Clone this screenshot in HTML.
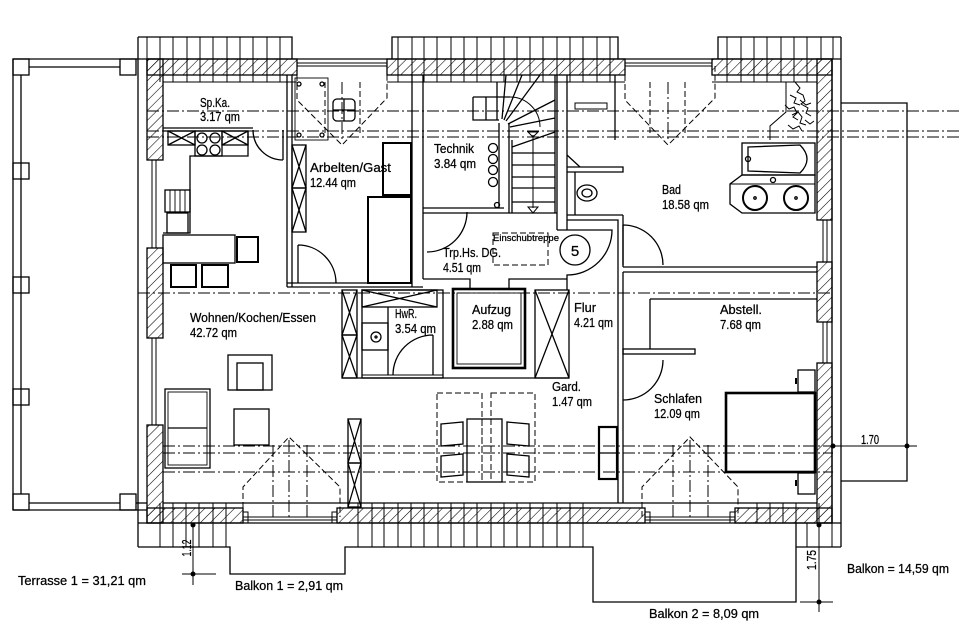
<!DOCTYPE html>
<html><head><meta charset="utf-8"><style>
html,body{margin:0;padding:0;background:#fff;}
svg{display:block;}
text{font-family:"Liberation Sans",sans-serif;font-size:12.5px;fill:#000;stroke:#000;stroke-width:0.25;}
</style></head><body>
<svg width="960" height="643" viewBox="0 0 960 643" xmlns="http://www.w3.org/2000/svg">
<defs>
<pattern id="h" width="7" height="7" patternUnits="userSpaceOnUse" patternTransform="rotate(45)"><line x1="0" y1="0" x2="0" y2="7" stroke="#000" stroke-width="1.1"/></pattern>
</defs>
<rect width="960" height="643" fill="#fff"/>
<g fill="none" stroke="#000" stroke-width="1.3">
<!-- Terrace -->
<line x1="13" y1="59" x2="138" y2="59"/>
<line x1="13" y1="59" x2="13" y2="510"/>
<line x1="21" y1="75" x2="21" y2="494"/>
<line x1="29" y1="67" x2="120" y2="67"/>
<line x1="13" y1="510" x2="147" y2="510"/>
<line x1="29" y1="503" x2="120" y2="503"/>
<rect x="13" y="59" width="16" height="16"/><rect x="120" y="59" width="16" height="16"/>
<rect x="13" y="163" width="16" height="16"/><rect x="13" y="277" width="16" height="16"/>
<rect x="13" y="389" width="16" height="16"/>
<rect x="13" y="494" width="16" height="16"/><rect x="120" y="494" width="16" height="16"/>
<line x1="136" y1="503" x2="147" y2="503"/>

<!-- Building outline -->
<line x1="138" y1="37" x2="138" y2="547"/>
<line x1="841" y1="37" x2="841" y2="547"/>
<line x1="832" y1="59" x2="832" y2="523"/>
<line x1="138" y1="59" x2="841" y2="59"/>
<line x1="138" y1="523" x2="841" y2="523"/>
<line x1="163" y1="503" x2="817" y2="503"/>
<path d="M163,82 H297 M387,82 H625 M712,82 H817" stroke-width="0.9"/>
<path d="M147,75 H297 M387,75 H625 M712,75 H832" stroke-width="0.9"/>

<!-- top overhangs -->
<path d="M138,37 H292 V59"/>
<path d="M392,59 V37 H618 V59"/>
<path d="M718,59 V37 H841"/>
<g stroke-width="1">
<path d="M147,37V82M160,37V82M173,37V82M187,37V82M200,37V82M213,37V82M227,37V82M240,37V82M253,37V82M267,37V82M280,37V82"/>
<path d="M398,37V82M412,37V82M424,37V82M437,37V82M451,37V82M464,37V82M477,37V82M491,37V82M504,37V82M517,37V82M530,37V82M543,37V82M557,37V82M570,37V82M583,37V82M597,37V82M610,37V82"/>
<path d="M727,37V82M741,37V82M754,37V82M767,37V82M781,37V82M794,37V82M807,37V82M821,37V59M833,37V59"/>
</g>
<!-- bottom overhangs -->
<path d="M138,547 H230 V574 H345 V547 H593 V602 H796 V523"/>
<path d="M796,547 H841"/>
<g stroke-width="1">
<path d="M160,503V547M173,503V547M186,503V547M199,503V547M213,503V547M226,503V547"/>
<path d="M358,503V547M372,503V547M384,503V547M398,503V547M411,503V547M424,503V547M438,503V547M451,503V547M464,503V547M477,503V547M491,503V547M504,503V547M517,503V547M530,503V547M543,503V547M557,503V547M570,503V547M583,503V547"/>
<path d="M757,503V523M770,503V523M783,503V523M796,503V523M807,523V547M819,503V547M832,523V547"/>
</g>

<!-- hatched walls -->
<g fill="url(#h)">
<rect x="147" y="59" width="150" height="16"/>
<rect x="387" y="59" width="238" height="16"/>
<rect x="712" y="59" width="120" height="16"/>
<rect x="147" y="59" width="16" height="101"/>
<rect x="147" y="248" width="16" height="90"/>
<rect x="147" y="425" width="16" height="98"/>
<rect x="817" y="59" width="15" height="161"/>
<rect x="817" y="262" width="15" height="60"/>
<rect x="817" y="363" width="15" height="160"/>
<rect x="147" y="508" width="96" height="15"/>
<rect x="337" y="508" width="308" height="15"/>
<rect x="735" y="508" width="97" height="15"/>
</g>
<!-- windows -->
<g stroke-width="1">
<path d="M152,160V248M156,160V248M152,338V425M156,338V425"/>
<path d="M823,220V262M827,220V262M823,322V363M827,322V363"/>
<path d="M243,517H337M243,520H337M645,517H735M645,520H735"/>
<path d="M297,63H387M297,66H387M625,63H712M625,66H712"/>
<rect x="243" y="512" width="5" height="11"/><rect x="332" y="512" width="5" height="11"/>
<rect x="645" y="512" width="5" height="11"/><rect x="730" y="512" width="5" height="11"/>
</g>

<!-- right balcony + dims -->
<path d="M841,103 H907 V481 H841"/>
<line x1="833" y1="446" x2="917" y2="446" stroke-width="1"/>
<line x1="819" y1="523" x2="819" y2="612" stroke-width="1"/>
<line x1="800" y1="602" x2="833" y2="602" stroke-width="1"/>
<line x1="193" y1="523" x2="193" y2="585" stroke-width="1"/>
<line x1="182" y1="574" x2="216" y2="574" stroke-width="1"/>
<g fill="#000" stroke="none">
<circle cx="833" cy="446" r="2.5"/><circle cx="907" cy="446" r="2.5"/>
<circle cx="819" cy="525" r="2.5"/><circle cx="819" cy="602" r="2.5"/>
<circle cx="193" cy="525" r="2.5"/><circle cx="193" cy="574" r="2.5"/>
</g>

<!-- dash-dot lines -->
<g stroke-width="1" stroke-dasharray="12 3 2 3">
<line x1="147" y1="111" x2="960" y2="111"/>
<line x1="147" y1="131" x2="960" y2="131"/>
<line x1="147" y1="137" x2="960" y2="137"/>
<line x1="138" y1="293" x2="833" y2="293"/>
<line x1="163" y1="446" x2="833" y2="446"/>
<line x1="163" y1="453" x2="833" y2="453"/>
<line x1="163" y1="472" x2="833" y2="472"/>
<line x1="342" y1="82" x2="342" y2="140"/>
<line x1="668" y1="82" x2="668" y2="140"/>
<line x1="273" y1="445" x2="273" y2="517"/>
<line x1="289" y1="440" x2="289" y2="517"/>
<line x1="307" y1="445" x2="307" y2="517"/>
<line x1="673" y1="445" x2="673" y2="517"/>
<line x1="690" y1="440" x2="690" y2="517"/>
<line x1="708" y1="445" x2="708" y2="517"/>
</g>
<!-- dormer projections dashed -->
<g stroke-width="1" stroke-dasharray="6 3">
<path d="M297,66V100L342,145L387,98V66"/>
<path d="M325,82V135M360,82V135"/>
<path d="M625,66V100L668,145L715,98V66"/>
<path d="M650,82V135M685,82V135"/>
<path d="M243,517V487L289,437L340,487V517"/>
<path d="M642,517V487L690,437L738,487V517"/>
</g>

<!-- Sp.Ka / kitchen -->
<line x1="163" y1="128" x2="253" y2="128"/>
<line x1="287" y1="75" x2="287" y2="287"/>
<line x1="292" y1="75" x2="292" y2="287"/>
<path d="M163,131 H248 V156 H190 V233 H163"/>
<rect x="168" y="131" width="27" height="14"/><path d="M168,131L195,145M168,145L195,131"/>
<rect x="222" y="131" width="26" height="14"/><path d="M222,131L248,145M222,145L248,131"/>
<rect x="195" y="131" width="27" height="25"/>
<circle cx="202" cy="138" r="5"/><circle cx="215" cy="138" r="5"/>
<circle cx="202" cy="150" r="5"/><circle cx="215" cy="150" r="5"/>
<rect x="165" y="190" width="25" height="22"/>
<path d="M170,190V212M175,190V212M180,190V212M185,190V212" stroke-width="0.9"/>
<rect x="167" y="213" width="21" height="20"/>
<rect x="163" y="235" width="72" height="28"/>
<rect x="237" y="237" width="21" height="25" stroke-width="2"/>
<rect x="171" y="265" width="25" height="22" stroke-width="2"/>
<rect x="202" y="265" width="26" height="22" stroke-width="2"/>
<path d="M253,130 A30,30 0 0 0 283,160 M283,130 V160"/>

<!-- Arbeiten -->
<rect x="292" y="145" width="14" height="43"/><path d="M292,145L306,188M306,145L292,188"/>
<rect x="292" y="188" width="14" height="44"/><path d="M292,188L306,232M306,188L292,232"/>
<rect x="383" y="143" width="28" height="52" stroke-width="2"/>
<rect x="368" y="197" width="43" height="86" stroke-width="2"/>
<path d="M298,245 V283 M298,245 A38,38 0 0 1 336,283"/>
<path d="M287,283 H412 M287,287 H423"/>
<line x1="412" y1="75" x2="412" y2="287"/>
<line x1="423" y1="75" x2="423" y2="279"/>
<rect x="295" y="78" width="33" height="62" stroke-width="0.9"/>
<circle cx="299" cy="84" r="2"/><circle cx="322" cy="84" r="2"/><circle cx="299" cy="135" r="2"/><circle cx="322" cy="135" r="2"/>
<rect x="333" y="99" width="22" height="22" rx="4"/>
<path d="M344,99V121M333,110H355"/>

<!-- Technik -->
<path d="M423,208 H504 M423,213 H509"/>
<path d="M499,123 V208 M509,123 V213"/>
<circle cx="493" cy="148" r="4.5"/><circle cx="493" cy="159" r="4.5"/><circle cx="493" cy="170" r="4.5"/><circle cx="493" cy="182" r="4.5"/>
<circle cx="497" cy="205" r="2.5"/>
<!-- stairs -->
<path d="M473,97 H510 M473,97 V120 H499"/>
<path d="M486,97V120M497,82V120"/>
<line x1="555" y1="75" x2="555" y2="213"/>
<line x1="512" y1="140" x2="512" y2="213"/>
<path d="M512,147 L555,132 M512,153H555M512,165H555M512,177H555M512,188H555M512,202H555M509,213H557"/>
<path d="M510,127 L555,118 M508,124 L555,100 M506,121 L540,75 M504,120 L522,75 M502,119 L506,75"/>
<path d="M510,97 A30,30 0 0 1 540,127" stroke-width="1"/>
<path d="M533,135 V208" stroke-width="1"/>
<path d="M528,207 L538,207 L533,213 Z M528,132 L538,132 L533,137 Z" stroke-width="1"/>
<line x1="557" y1="75" x2="557" y2="230"/>
<line x1="567" y1="75" x2="567" y2="230"/>
<rect x="575" y="103" width="32" height="6" stroke-width="1"/>
<line x1="615" y1="75" x2="615" y2="140"/>

<!-- WC / Bad -->
<path d="M567,167 H623 V172 H567"/>
<path d="M567,155 L580,167"/>
<line x1="575" y1="172" x2="575" y2="215"/>
<ellipse cx="587" cy="193" rx="10" ry="8"/>
<ellipse cx="587" cy="193" rx="5" ry="4"/>
<path d="M567,215 H623 M567,220 H618 V267 M623,215 V267"/>
<path d="M623,225 V265 M623,225 A40,40 0 0 1 663,265"/>
<path d="M623,267 H817 M623,272 H817"/>
<rect x="742" y="143" width="73" height="32"/>
<path d="M748,147 L800,145 Q814,159 800,173 L748,171 Z"/>
<circle cx="748" cy="159" r="2.5"/>
<path d="M742,175 H815 V213 H742 L730,204 V184 L742,175"/>
<line x1="730" y1="184" x2="815" y2="184" stroke-width="1"/>
<circle cx="755" cy="198" r="12" stroke-width="2"/><circle cx="755" cy="198" r="1.2"/>
<circle cx="796" cy="198" r="12" stroke-width="2"/><circle cx="796" cy="198" r="1.2"/>
<circle cx="773" cy="180" r="2.5"/>
<path d="M786,82 V112 L770,126 V140" stroke-width="1"/>
<g stroke-width="1">
<path d="M795,82 l5,6 l-3,4 l6,3 l2,6 l-4,3 l7,4 l-2,5 l5,3 M790,95 l6,3 l-2,5 l6,2 M785,105 l4,4 l5,-2 l3,6 l-4,4 l5,3 M792,115 l6,-3 l4,5 l-2,6 l6,2 M788,125 l5,4 l6,-3 l3,5 M800,100 l6,5 l5,-2 M805,120 l5,4 l4,-3"/>
</g>

<!-- Trp.Hs -->
<path d="M467,212 A40,40 0 0 1 427,252"/>
<rect x="493" y="233" width="55" height="32" stroke-width="1" stroke-dasharray="6 3"/>
<circle cx="575" cy="250" r="15"/>
<path d="M557,230 H612 A45,45 0 0 1 567,275 V290"/>
<path d="M423,279 H470 V290 M509,290 V279 H567"/>

<!-- HwR / Aufzug block -->
<rect x="342" y="290" width="15" height="45"/><path d="M342,290L357,335M357,290L342,335"/>
<rect x="342" y="335" width="15" height="43"/><path d="M342,335L357,378M357,335L342,378"/>
<rect x="362" y="290" width="81" height="88"/>
<rect x="362" y="290" width="75" height="17"/><path d="M362,290L437,307M362,307L437,290"/>
<line x1="388" y1="307" x2="388" y2="375"/>
<rect x="362" y="323" width="26" height="27"/>
<circle cx="376" cy="337" r="5"/><circle cx="376" cy="337" r="1"/>
<path d="M433,335 V375 M433,335 A40,40 0 0 0 393,375"/>
<line x1="362" y1="375" x2="443" y2="375" stroke-width="1"/>
<rect x="453" y="289" width="72" height="79" stroke-width="2.6"/>
<rect x="457" y="293" width="64" height="71" stroke-width="0.9"/>
<rect x="535" y="290" width="34" height="88"/><path d="M535,290L569,378M569,290L535,378"/>
<line x1="342" y1="378" x2="569" y2="378"/>

<!-- Flur / right rooms -->
<line x1="618" y1="267" x2="618" y2="503"/>
<line x1="623" y1="272" x2="623" y2="503"/>
<rect x="599" y="427" width="18" height="52" stroke-width="2.2"/>
<line x1="599" y1="453" x2="617" y2="453"/>
<path d="M650,299 H817 M650,299 V349"/>
<rect x="623" y="349" width="72" height="5"/>
<path d="M663,360 A40,40 0 0 1 623,400"/>
<rect x="726" y="393" width="89" height="79" stroke-width="2.6"/>
<rect x="798" y="370" width="17" height="22"/>
<rect x="798" y="473" width="17" height="21"/>
<path d="M796,378V384M796,480V486" stroke-width="2"/>

<!-- Living -->
<rect x="228" y="355" width="44" height="35"/>
<rect x="237" y="363" width="26" height="27"/>
<rect x="165" y="389" width="45" height="79"/>
<rect x="168" y="392" width="39" height="73" stroke-width="0.9"/>
<line x1="168" y1="428" x2="207" y2="428"/>
<rect x="234" y="409" width="35" height="36"/>
<rect x="348" y="419" width="13" height="44"/><path d="M348,419L361,463M361,419L348,463"/>
<rect x="348" y="463" width="13" height="44"/><path d="M348,463L361,507M361,463L348,507"/>

<!-- dining -->
<g stroke-dasharray="6 3" stroke-width="1">
<rect x="437" y="393" width="45" height="89"/>
<rect x="491" y="393" width="44" height="89"/>
<path d="M482,419V482M491,419V482"/>
</g>
<rect x="467" y="419" width="35" height="63"/>
<path d="M441,424 L463,422 L463,444 L441,446 Z M441,456 L463,454 L463,475 L441,477 Z"/>
<path d="M507,422 L529,424 L529,446 L507,444 Z M507,454 L529,456 L529,477 L507,475 Z"/>
</g>

<!-- labels -->
<text x="200" y="107" textLength="30" lengthAdjust="spacingAndGlyphs">Sp.Ka.</text>
<text x="200" y="121" textLength="40" lengthAdjust="spacingAndGlyphs">3.17 qm</text>
<text x="310" y="172" textLength="81" lengthAdjust="spacingAndGlyphs">Arbelten/Gast</text>
<text x="310" y="187" textLength="46" lengthAdjust="spacingAndGlyphs">12.44 qm</text>
<text x="434" y="153" textLength="40" lengthAdjust="spacingAndGlyphs">Technik</text>
<text x="434" y="168" textLength="42" lengthAdjust="spacingAndGlyphs">3.84 qm</text>
<text x="662" y="194" textLength="19" lengthAdjust="spacingAndGlyphs">Bad</text>
<text x="662" y="209" textLength="47" lengthAdjust="spacingAndGlyphs">18.58 qm</text>
<text x="190" y="322" textLength="126" lengthAdjust="spacingAndGlyphs">Wohnen/Kochen/Essen</text>
<text x="190" y="337" textLength="47" lengthAdjust="spacingAndGlyphs">42.72 qm</text>
<text x="443" y="257" textLength="58" lengthAdjust="spacingAndGlyphs">Trp.Hs. DG.</text>
<text x="443" y="272" textLength="38" lengthAdjust="spacingAndGlyphs">4.51 qm</text>
<text x="493" y="241" style="font-size:9px" textLength="66" lengthAdjust="spacingAndGlyphs">Einschubtreppe</text>
<text x="575" y="256" text-anchor="middle" style="font-size:15px">5</text>
<text x="395" y="318" textLength="22" lengthAdjust="spacingAndGlyphs">HwR.</text>
<text x="395" y="333" textLength="41" lengthAdjust="spacingAndGlyphs">3.54 qm</text>
<text x="472" y="314" textLength="39" lengthAdjust="spacingAndGlyphs">Aufzug</text>
<text x="472" y="329" textLength="41" lengthAdjust="spacingAndGlyphs">2.88 qm</text>
<text x="574" y="312" textLength="22" lengthAdjust="spacingAndGlyphs">Flur</text>
<text x="574" y="327" textLength="39" lengthAdjust="spacingAndGlyphs">4.21 qm</text>
<text x="552" y="391" textLength="29" lengthAdjust="spacingAndGlyphs">Gard.</text>
<text x="552" y="406" textLength="40" lengthAdjust="spacingAndGlyphs">1.47 qm</text>
<text x="720" y="314" textLength="42" lengthAdjust="spacingAndGlyphs">Abstell.</text>
<text x="720" y="329" textLength="41" lengthAdjust="spacingAndGlyphs">7.68 qm</text>
<text x="654" y="403" textLength="48" lengthAdjust="spacingAndGlyphs">Schlafen</text>
<text x="654" y="418" textLength="46" lengthAdjust="spacingAndGlyphs">12.09 qm</text>
<text x="18" y="585" textLength="128" lengthAdjust="spacingAndGlyphs">Terrasse 1 = 31,21 qm</text>
<text x="235" y="590" textLength="108" lengthAdjust="spacingAndGlyphs">Balkon 1 = 2,91 qm</text>
<text x="649" y="618" textLength="110" lengthAdjust="spacingAndGlyphs">Balkon 2 = 8,09 qm</text>
<text x="847" y="573" textLength="102" lengthAdjust="spacingAndGlyphs">Balkon = 14,59 qm</text>
<text x="861" y="444" textLength="18" lengthAdjust="spacingAndGlyphs">1.70</text>
<text transform="translate(816,560) rotate(-90)" text-anchor="middle" textLength="20" lengthAdjust="spacingAndGlyphs">1.75</text>
<text transform="translate(191,548) rotate(-90)" text-anchor="middle" textLength="17" lengthAdjust="spacingAndGlyphs">1.12</text>
</svg>
</body></html>
